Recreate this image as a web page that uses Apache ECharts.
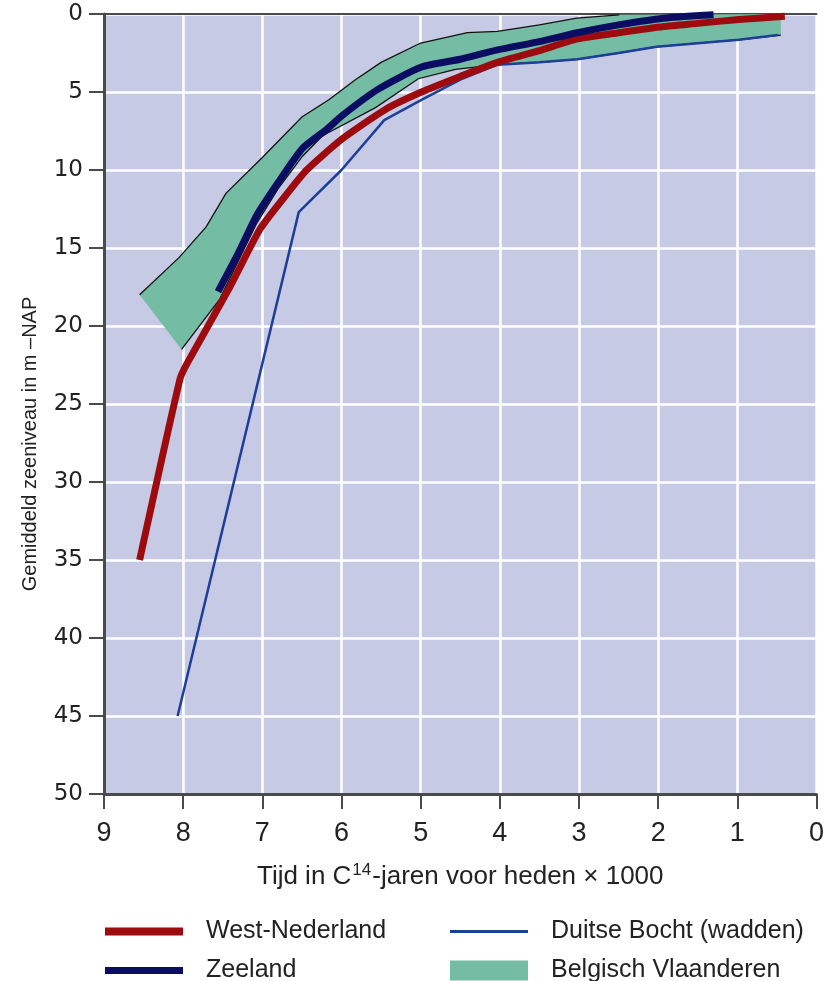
<!DOCTYPE html>
<html>
<head>
<meta charset="utf-8">
<script src="https://cdn.jsdelivr.net/npm/echarts@6/dist/echarts.min.js"></script>
<style>
html,body{margin:0;padding:0;background:#fff;}
#chart{width:827px;height:981px;}
</style>
</head>
<body>
<div id="chart"></div>
<script>
// ---- data (years BP x1000, depth in m -NAP) ----
const westYears  = [8.55, 8.04, 7.95, 7.41, 7.03, 6.7, 6.44, 5.99, 5.44, 4.99, 4.5, 4.03, 3.5, 3.02, 2.5, 1.93, 1.5, 0.98, 0.4];
const westDepth  = [35.0, 23.4, 22.4, 17.5, 13.8, 11.6, 10.0, 8.0, 6.1, 5.0, 4.0, 3.1, 2.35, 1.6, 1.2, 0.8, 0.6, 0.35, 0.15];

const zeelYears  = [7.56, 7.3, 7.07, 6.8, 6.49, 6.2, 5.99, 5.53, 4.99, 4.5, 4.03, 3.5, 3.02, 2.5, 1.93, 1.3];
const zeelDepth  = [17.8, 15.3, 12.9, 10.8, 8.6, 7.45, 6.5, 4.8, 3.4, 2.9, 2.3, 1.77, 1.2, 0.7, 0.27, 0.05];

const duitsYears = [8.07, 6.54, 6.0, 5.46, 4.99, 4.5, 4.03, 3.5, 3.02, 2.5, 2.02, 1.5, 0.98, 0.49];
const duitsDepth = [45.0, 12.7, 10.0, 6.8, 5.5, 4.2, 3.25, 3.1, 2.9, 2.5, 2.1, 1.87, 1.65, 1.35];

const belgUpperYears = [8.55, 8.05, 7.71, 7.46, 7.0, 6.5, 6.16, 5.82, 5.5, 5.0, 4.41, 4.03, 3.5, 3.03, 2.49, 0.45];
const belgUpperDepth = [18.0, 15.6, 13.65, 11.5, 9.2, 6.6, 5.5, 4.2, 3.1, 1.86, 1.2, 1.12, 0.7, 0.26, 0.05, 0.0];
const belgLowerYears = [8.02, 7.54, 7.07, 6.8, 6.49, 6.24, 5.57, 5.03, 4.56, 4.03, 3.5, 3.02, 2.5, 2.02, 1.5, 0.98, 0.45];
const belgLowerDepth = [21.5, 18.3, 13.4, 11.2, 9.1, 7.8, 6.0, 4.15, 3.55, 3.25, 3.1, 2.9, 2.5, 2.1, 1.87, 1.65, 1.35];

const seriesNames = ['West-Nederland', 'Zeeland', 'Duitse Bocht (wadden)', 'Belgisch Vlaanderen'];
const xAxisTitle = 'Tijd in C{sup|14}-jaren voor heden × 1000';
const yAxisTitle = 'Gemiddeld zeeniveau in m \u2013NAP';

const pairs = (xs, ys) => xs.map((x, i) => [x, ys[i]]);

const C_RED = '#9e0b0f', C_NAVY = '#0b0d63', C_BLUE = '#1d3f97', C_GREEN = '#75bca5';
const FONT = "'Liberation Sans', Arial, sans-serif";
const FONT_N = "'Liberation Sans Narrow', 'Arial Narrow', 'Liberation Sans', sans-serif";

const chart = echarts.init(document.getElementById('chart'), null, {renderer: 'canvas'});

function legendFor(name, left, top, h) {
  return {
    data: [{name: name, icon: 'rect'}],
    left: left, top: top, padding: 0,
    itemWidth: 78, itemHeight: h,
    selectedMode: false,
    itemStyle: {borderWidth: 0},
    textStyle: {fontFamily: FONT, fontSize: 25, color: '#222', padding: [0, 0, 0, 18]}
  };
}

const option = {
  animation: false,
  backgroundColor: '#ffffff',
  grid: {left: 104, right: 6, top: 14, bottom: 187, show: true, backgroundColor: '#c6cae4', borderWidth: 0},
  xAxis: [{
    type: 'value', min: 0, max: 9, interval: 1, inverse: true,
    axisLine: {show: true, onZero: false, lineStyle: {color: '#4a4a4a', width: 3}},
    axisTick: {show: true, length: 15, lineStyle: {color: '#4a4a4a', width: 2}},
    axisLabel: {margin: 26, fontFamily: FONT_N, fontSize: 27, color: '#222'},
    splitLine: {show: true, lineStyle: {color: '#ffffff', width: 2.5}},
    name: xAxisTitle, nameLocation: 'middle', nameGap: 68,
    nameTextStyle: {fontFamily: FONT, fontSize: 26, color: '#222',
      rich: {sup: {fontFamily: FONT, fontSize: 17, color: '#222', verticalAlign: 'top', padding: [0, 1, 12, 1]}}}
  }, {
    type: 'value', min: 0, max: 9, inverse: true, position: 'top',
    axisLine: {show: true, onZero: false, lineStyle: {color: '#4a4a4a', width: 2}},
    axisTick: {show: false}, axisLabel: {show: false}, splitLine: {show: false}
  }],
  yAxis: {
    type: 'value', min: 0, max: 50, interval: 5, inverse: true,
    axisLine: {show: true, onZero: false, lineStyle: {color: '#4a4a4a', width: 3}},
    axisTick: {show: true, length: 15, lineStyle: {color: '#4a4a4a', width: 2}},
    axisLabel: {margin: 21, fontFamily: "'DejaVu Sans', Verdana, sans-serif", fontSize: 23, color: '#222'},
    splitLine: {show: true, lineStyle: {color: '#ffffff', width: 2.5}},
    name: yAxisTitle, nameLocation: 'middle', nameGap: 64, nameRotate: 90,
    nameTextStyle: {fontFamily: FONT_N, fontSize: 20, color: '#222', padding: [0, 80, 0, 0]}
  },
  legend: [
    legendFor(seriesNames[0], 105, 919, 8),
    legendFor(seriesNames[1], 105, 958, 7),
    legendFor(seriesNames[2], 450, 919, 3),
    legendFor(seriesNames[3], 450, 958, 20)
  ],
  series: [
    {
      name: seriesNames[3], type: 'custom', z: 1,
      itemStyle: {color: C_GREEN},
      encode: {x: 0, y: 1},
      data: pairs(belgUpperYears, belgUpperDepth),
      clip: true,
      renderItem: function (params, api) {
        if (params.dataIndex !== 0) return null;
        const up = belgUpperYears.map((t, i) => api.coord([t, belgUpperDepth[i]]));
        const lo = belgLowerYears.map((t, i) => api.coord([t, belgLowerDepth[i]]));
        const poly = up.concat(lo.slice().reverse());
        return {
          type: 'group',
          children: [
            {type: 'polygon', shape: {points: poly}, style: {fill: C_GREEN}},
            {type: 'polyline', shape: {points: up.slice(0, up.length - 1)}, style: {stroke: '#111', lineWidth: 1.3, fill: null}},
            {type: 'polyline', shape: {points: lo}, style: {stroke: '#111', lineWidth: 1.3, fill: null}}
          ]
        };
      }
    },
    {
      name: seriesNames[2], type: 'line', z: 2, showSymbol: false, symbol: 'none',
      color: C_BLUE,
      lineStyle: {color: C_BLUE, width: 2.5, join: 'round'},
      data: pairs(duitsYears, duitsDepth)
    },
    {
      name: seriesNames[0], type: 'line', z: 3, showSymbol: false, symbol: 'none', smooth: 0.2,
      color: C_RED,
      lineStyle: {color: C_RED, width: 7, join: 'round'},
      data: pairs(westYears, westDepth)
    },
    {
      name: seriesNames[1], type: 'line', z: 4, showSymbol: false, symbol: 'none', smooth: 0.2,
      color: C_NAVY,
      lineStyle: {color: C_NAVY, width: 7, join: 'round'},
      data: pairs(zeelYears, zeelDepth)
    }
  ]
};
chart.setOption(option);
</script>
</body>
</html>
